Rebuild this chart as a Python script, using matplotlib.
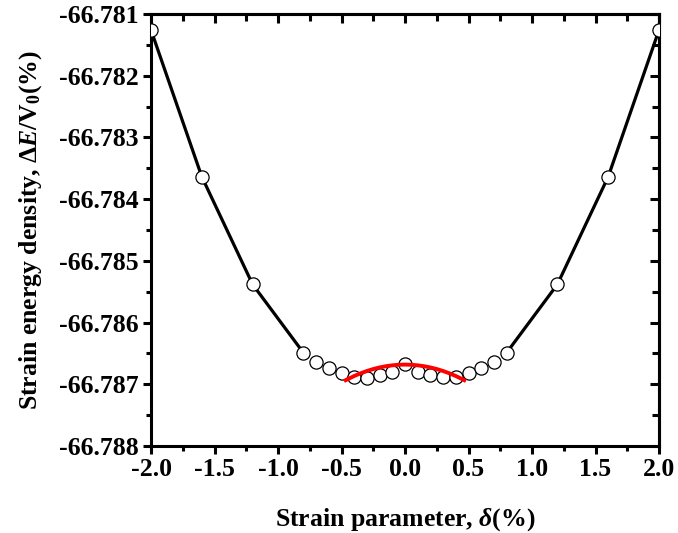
import matplotlib
matplotlib.use("Agg")
import matplotlib.pyplot as plt
from matplotlib.ticker import MultipleLocator, FormatStrFormatter

plt.rcParams['font.family'] = ['Liberation Serif', 'DejaVu Serif']
plt.rcParams['font.weight'] = 'bold'
plt.rcParams['axes.unicode_minus'] = False
plt.rcParams['mathtext.fontset'] = 'custom'
plt.rcParams['mathtext.rm'] = 'Liberation Serif:bold'
plt.rcParams['mathtext.it'] = 'Liberation Serif:italic:bold'
plt.rcParams['mathtext.bf'] = 'Liberation Serif:bold'

# data points (strain %, energy density)
strain = [-2.0, -1.6, -1.2, -0.8, -0.7, -0.6, -0.5, -0.4, -0.3, -0.2, -0.1, 0.0,
          0.1, 0.2, 0.3, 0.4, 0.5, 0.6, 0.7, 0.8, 1.2, 1.6, 2.0]
energy = [-66.781259, -66.783637, -66.785381, -66.786489, -66.786635, -66.786742,
          -66.786823, -66.786878, -66.786895, -66.786851, -66.786797, -66.786677,
          -66.786807, -66.786851, -66.786888, -66.786878, -66.786813, -66.786742,
          -66.786635, -66.786489, -66.785381, -66.783637, -66.781259]

# outer segments connected by black line
left_x = [-2.0, -1.6, -1.2, -0.8]
left_y = [-66.781259, -66.783637, -66.785381, -66.786489]
right_x = [0.8, 1.2, 1.6, 2.0]
right_y = [-66.786489, -66.785381, -66.783637, -66.781259]

# red fitted curve
fit_x = [-0.48, -0.45, -0.40, -0.35, -0.30, -0.25, -0.20, -0.15, -0.10, -0.05, 0.0,
         0.05, 0.10, 0.15, 0.20, 0.25, 0.30, 0.35, 0.40, 0.45, 0.48]
fit_y = [-66.786948, -66.786916, -66.786866, -66.786823, -66.786785, -66.786753,
         -66.786727, -66.786707, -66.786693, -66.786684, -66.786681,
         -66.786684, -66.786693, -66.786707, -66.786727, -66.786753, -66.786785,
         -66.786823, -66.786866, -66.786916, -66.786948]

xticks = [-2.0, -1.5, -1.0, -0.5, 0.0, 0.5, 1.0, 1.5, 2.0]
yticks = [-66.788, -66.787, -66.786, -66.785, -66.784, -66.783, -66.782, -66.781]

FS = 18.5
LW = 2.2

fig = plt.figure(figsize=(6.78, 5.33), dpi=100)
ax = fig.add_axes([151/678, 1-446/533, (659-151)/678, (446-14)/533])

ax.plot(left_x, left_y, color='black', lw=2.3, zorder=2)
ax.plot(right_x, right_y, color='black', lw=2.3, zorder=2)
ax.plot(strain, energy, ls='none', marker='o', ms=9.5, mfc='white', mec='black',
        mew=0.9, zorder=3)
ax.plot(fit_x, fit_y, color='red', lw=2.8, zorder=4, solid_capstyle='butt')

ax.set_xlim(-2.0, 2.0)
ax.set_ylim(-66.788, -66.781)
ax.set_xticks(xticks)
ax.set_yticks(yticks)
ax.xaxis.set_minor_locator(MultipleLocator(0.25))
ax.yaxis.set_minor_locator(MultipleLocator(0.0005))
ax.xaxis.set_major_formatter(FormatStrFormatter('%.1f'))
ax.yaxis.set_major_formatter(FormatStrFormatter('%.3f'))

for sp in ax.spines.values():
    sp.set_linewidth(LW)

ax.tick_params(axis='both', which='major', direction='out', length=6, width=LW,
               labelsize=FS, pad=3)
ax.tick_params(axis='both', which='minor', direction='out', length=3.5, width=LW)
ax.tick_params(axis='both', which='both', top=False, right=False)

# mirrored inward ticks on top and right
axt = ax.secondary_xaxis('top')
axt.set_xticks(xticks)
axt.xaxis.set_minor_locator(MultipleLocator(0.25))
axt.tick_params(which='major', direction='in', length=6.5, width=LW, labeltop=False)
axt.tick_params(which='minor', direction='in', length=5, width=LW)
axt.spines['top'].set_linewidth(LW)
axr = ax.secondary_yaxis('right')
axr.set_yticks(yticks)
axr.yaxis.set_minor_locator(MultipleLocator(0.0005))
axr.tick_params(which='major', direction='in', length=6.5, width=LW, labelright=False)
axr.tick_params(which='minor', direction='in', length=5, width=LW)
axr.spines['right'].set_linewidth(LW)

for lab in ax.get_xticklabels() + ax.get_yticklabels():
    lab.set_fontweight('bold')

ax.set_xlabel(r'Strain parameter, $\mathit{\delta}$(%)', fontsize=FS, fontweight='bold')
ax.set_ylabel('Strain energy density, $\\mathit{\u0394E}$/V$_{\\mathit{0}}$(%)',
              fontsize=FS, fontweight='bold')
ax.xaxis.set_label_coords(0.5, -(506 - 446) / 432, transform=ax.transAxes)
ax.yaxis.set_label_coords(-(151 - 44) / 508, 0.5, transform=ax.transAxes)

fig.savefig('out.png', dpi=100)
